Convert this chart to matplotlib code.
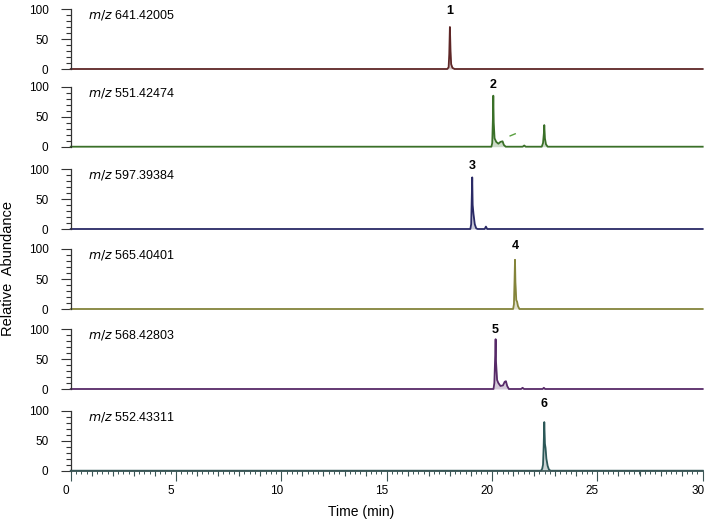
import matplotlib
matplotlib.use("Agg")
import matplotlib.pyplot as plt
from matplotlib.ticker import MultipleLocator, FixedLocator
from matplotlib.transforms import ScaledTranslation

# m/z labels and peak numbers, one per panel
mz_labels = ["641.42005", "551.42474", "597.39384", "565.40401", "568.42803", "552.43311"]
peak_names = ["1", "2", "3", "4", "5", "6"]
peak_times = [18.00, 20.06, 19.06, 21.09, 20.17, 22.48]
label_heights = [97, 102, 105, 105, 99, 111]
colors = ["#5e2626", "#3a7028", "#2a2a66", "#84843a", "#572a68", "#2c5858"]

# traces (time in min, relative abundance)
t1 = [0, 17.88, 17.94, 17.97, 18.00, 18.03, 18.06, 18.12, 18.22, 30]
y1 = [0, 0, 3, 25, 70, 30, 8, 2, 0, 0]

t2 = [0, 19.97, 20.01, 20.04, 20.06, 20.08, 20.12, 20.20, 20.30, 20.40, 20.50,
      20.56, 20.65, 21.45, 21.53, 21.60, 22.36, 22.42, 22.46, 22.48, 22.51,
      22.56, 22.64, 30]
y2 = [0, 0, 6, 45, 85, 40, 14, 8, 5, 8, 9, 3, 0, 0, 2, 0, 0, 6, 22, 36, 14,
      4, 0, 0]
t2_dash = [20.86, 21.10]
y2_dash = [18, 21.5]

t3 = [0, 18.97, 19.01, 19.04, 19.06, 19.08, 19.12, 19.18, 19.25, 19.32, 19.65,
      19.71, 19.77, 30]
y3 = [0, 0, 8, 55, 86, 40, 25, 8, 1, 0, 0, 4, 0, 0]

t4 = [0, 21.00, 21.04, 21.07, 21.09, 21.11, 21.15, 21.19, 21.23, 21.30, 30]
y4 = [0, 0, 8, 50, 82, 45, 15, 12, 5, 0, 0]

t5 = [0, 20.07, 20.11, 20.15, 20.17, 20.19, 20.24, 20.30, 20.40, 20.52, 20.60,
      20.66, 20.72, 20.80, 21.38, 21.45, 21.52, 22.40, 22.46, 22.52, 30]
y5 = [0, 0, 10, 55, 83, 45, 15, 10, 5, 6, 12, 13, 5, 0, 0, 2, 0, 0, 2, 0, 0]

t6 = [0, 22.32, 22.38, 22.42, 22.45, 22.48, 22.51, 22.54, 22.58, 22.64, 22.70,
      22.78, 30]
y6 = [0, 0, 3, 10, 40, 81, 45, 38, 20, 8, 2, 0, 0]

traces = [(t1, y1), (t2, y2), (t3, y3), (t4, y4), (t5, y5), (t6, y6)]

W, H = 705, 521
baselines = [69, 146.7, 229, 309, 389, 470.7]   # pixel rows of the zero line
x0_px, x1_px = 70.7, 702.7
panel_h = 60

plt.rcParams["font.family"] = ["Liberation Sans", "DejaVu Sans"]
fig = plt.figure(figsize=(W / 100, H / 100), dpi=100)

axes = []
for i, (t, y) in enumerate(traces):
    ax = fig.add_axes([x0_px / W, (H - baselines[i]) / H,
                       (x1_px - x0_px) / W, panel_h / H])
    axes.append(ax)
    c = colors[i]
    ax.fill_between(t, y, 0, color=c, alpha=0.25, lw=0)
    ax.plot(t, y, color=c, lw=1.3, solid_joinstyle="round", clip_on=False)
    if i == 1:
        ax.plot(t2_dash, y2_dash, color="#5aa040", lw=1.0)
    ax.set_xlim(0, 30)
    ax.set_ylim(0, 100)
    ax.patch.set_visible(False)
    for s in ["top", "right"]:
        ax.spines[s].set_visible(False)
    ax.spines["left"].set_color("#333333")
    ax.spines["left"].set_linewidth(0.9)
    ax.yaxis.set_major_locator(FixedLocator([0, 50, 100]))
    ax.yaxis.set_minor_locator(MultipleLocator(10))
    ax.tick_params(axis="y", which="major", length=7, width=0.8, pad=9,
                   labelsize=8.5, color="#333333")
    ax.tick_params(axis="y", which="minor", length=3.5, width=0.8,
                   color="#333333")
    ax.text(0.8, 90, "$m/z$ " + mz_labels[i], fontsize=9, va="center",
            ha="left")
    ax.text(peak_times[i], label_heights[i], peak_names[i], fontsize=9,
            fontweight="bold", ha="center", va="center", clip_on=False)
    if i < 5:
        ax.spines["bottom"].set_visible(False)
        ax.tick_params(axis="x", which="both", bottom=False, labelbottom=False)

# bottom time axis: labelled every 5, ticks every 1 and every 0.25
ax = axes[-1]
axis_col = "#3b5555"
ax.spines["bottom"].set_color(axis_col)
ax.spines["bottom"].set_linewidth(1.2)
ax.xaxis.set_major_locator(MultipleLocator(5))
ax.xaxis.set_minor_locator(MultipleLocator(1))
ax.tick_params(axis="x", which="major", length=7.5, width=0.8, pad=3,
               labelsize=8.5, color=axis_col)
ax.tick_params(axis="x", which="minor", length=3.5, width=0.8, color=axis_col)
shift = ScaledTranslation(-0.05, 0, fig.dpi_scale_trans)
for lab in ax.get_xticklabels():
    lab.set_transform(lab.get_transform() + shift)

sec = ax.secondary_xaxis("bottom")
sec.spines["bottom"].set_visible(False)
sec.xaxis.set_major_locator(MultipleLocator(0.25))
sec.tick_params(axis="x", which="major", length=1.8, width=0.7,
                color=axis_col, labelbottom=False)

fig.text(361 / W, 1 - 512 / H, "Time (min)", fontsize=10, ha="center", va="center")
fig.text(8 / W, 1 - 268 / H, "Relative  Abundance", fontsize=10.5, rotation=90,
         ha="center", va="center")

fig.savefig("out.png", dpi=100)
